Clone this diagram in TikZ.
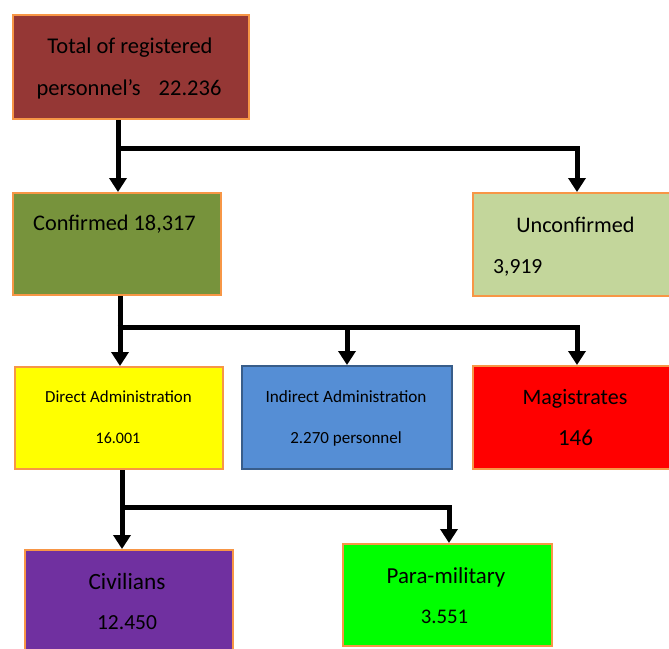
\documentclass[tikz,border=0pt]{standalone}
\usepackage{fontspec}
\setmainfont{Carlito}
\usetikzlibrary{arrows.meta,calc}
\definecolor{boxorange}{HTML}{F79646}
\definecolor{cTotal}{HTML}{953735}
\definecolor{cConf}{HTML}{77933C}
\definecolor{cUnconf}{HTML}{C3D69B}
\definecolor{cDirect}{HTML}{FFFF00}
\definecolor{cIndirect}{HTML}{558ED5}
\definecolor{cIndBorder}{HTML}{385D8A}
\definecolor{cMag}{HTML}{FF0000}
\definecolor{cCiv}{HTML}{7030A0}
\definecolor{cPara}{HTML}{00FF00}
\tikzset{
  box/.style={draw=boxorange, line width=2pt, rectangle, inner sep=0pt, anchor=north west},
  lbl/.style={inner sep=0pt, text=black, anchor=base},
  conn/.style={line width=5pt, draw=black, line cap=butt},
  arr/.style={conn, -{Triangle[width=17pt,length=14pt]}}
}
\newcommand{\fsz}[1]{\fontsize{#1}{#1}\selectfont}
\begin{document}
\begin{tikzpicture}[x=1pt,y=-1pt]
\useasboundingbox (0,0) rectangle (669,648);
\clip (0,0) rectangle (669,648);
% boxes
\node[box, fill=cTotal, minimum width=236pt, minimum height=104pt] (total) at (12,14) {};
\node[box, fill=cConf, minimum width=208pt, minimum height=102pt] (conf) at (12,192) {};
\node[box, fill=cUnconf, minimum width=208pt, minimum height=103pt] (unconf) at (472,192) {};
\node[box, fill=cDirect, minimum width=208pt, minimum height=102pt] (direct) at (14,366) {};
\node[box, fill=cIndirect, draw=cIndBorder, minimum width=210pt, minimum height=103pt] (indirect) at (241,365) {};
\node[box, fill=cMag, minimum width=208pt, minimum height=103pt] (mag) at (472,365) {};
\node[box, fill=cCiv, minimum width=208pt, minimum height=105pt] (civ) at (24,549) {};
\node[box, fill=cPara, minimum width=209pt, minimum height=102pt] (para) at (342,543) {};
% labels
\node[lbl, font=\fsz{22.5}] (t1) at (130,53) {Total of registered};
\node[lbl, font=\fsz{22.5}] (t2) at (129,95) {personnel's\hspace{18pt}22.236};
\node[lbl, font=\fsz{22.3}, anchor=base west] (c1) at (33,230) {Confirmed 18,317};
\node[lbl, font=\fsz{22.2}] (u1) at (575.5,232) {Unconfirmed};
\node[lbl, font=\fsz{21.6}, anchor=base west] (u2) at (493,273) {3,919};
\node[lbl, font=\fsz{16.9}] (d1) at (118.5,402) {Direct Administration};
\node[lbl, font=\fsz{16}] (d2) at (118,443) {16.001};
\node[lbl, font=\fsz{17.2}] (i1) at (346,402) {Indirect Administration};
\node[lbl, font=\fsz{17}] (i2) at (346,443) {2.270 personnel};
\node[lbl, font=\fsz{22}] (m1) at (575,404) {Magistrates};
\node[lbl, font=\fsz{23}] (m2) at (575.5,445) {146};
\node[lbl, font=\fsz{23.3}] (v1) at (127,589) {Civilians};
\node[lbl, font=\fsz{21.5}] (v2) at (127,629) {12.450};
\node[lbl, font=\fsz{22.9}] (p1) at (446,583) {Para-military};
\node[lbl, font=\fsz{20.8}] (p2) at (444.5,623) {3.551};
% connectors
\draw[arr] ([xshift=1pt]total.south -| conf.north) -- ([xshift=1pt]conf.north);
\draw[arr] ([xshift=1pt]conf.north |- 0,148) -| (unconf.north);
\draw[arr] ([xshift=1pt]conf.south -| direct.north) -- ([xshift=1pt]direct.north);
\draw[conn] ([xshift=-1.5pt]direct.north |- 0,327) -- ([xshift=2.5pt]mag.north |- 0,327);
\draw[arr] (indirect.north |- 0,327) -- (indirect.north);
\draw[arr] (mag.north |- 0,327) -- (mag.north);
\draw[arr] ([xshift=3pt]direct.south) -- ([xshift=3pt]direct.south |- civ.north);
\draw[arr] ([xshift=3pt]direct.south |- 0,507) -| ([xshift=1.5pt]para.north);
\end{tikzpicture}
\end{document}
